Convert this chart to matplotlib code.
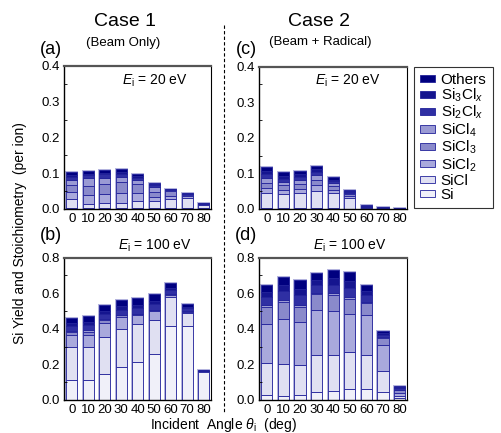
import matplotlib
matplotlib.use('Agg')
import matplotlib.pyplot as plt
import numpy as np
from matplotlib.patches import Patch

plt.rcParams['font.family'] = ['Liberation Sans', 'DejaVu Sans']
plt.rcParams['mathtext.fontset'] = 'custom'
plt.rcParams['mathtext.rm'] = 'Liberation Sans'
plt.rcParams['mathtext.it'] = 'Liberation Sans:italic'
plt.rcParams['mathtext.bf'] = 'Liberation Sans:bold'

angles = ['0', '10', '20', '30', '40', '50', '60', '70', '80']
species = ['Si', 'SiCl', 'SiCl$_2$', 'SiCl$_3$', 'SiCl$_4$',
           'Si$_2$Cl$_x$', 'Si$_3$Cl$_x$', 'Others']
colors = ['#f0f0f9', '#e0e0f2', '#a9a9dc', '#8a8acb', '#9a9ad4',
          '#2f2fa3', '#15158f', '#00007f']

# Case 1, Ei = 20 eV
c1_20_si     = [0.003, 0.003, 0.003, 0.003, 0.003, 0.003, 0.003, 0.003, 0.002]
c1_20_sicl   = [0.024, 0.010, 0.013, 0.013, 0.020, 0.019, 0.024, 0.029, 0.010]
c1_20_sicl2  = [0.020, 0.025, 0.025, 0.030, 0.022, 0.012, 0.010, 0.004, 0.001]
c1_20_sicl3  = [0.020, 0.027, 0.028, 0.030, 0.024, 0.014, 0.014, 0.004, 0.001]
c1_20_sicl4  = [0.014, 0.021, 0.019, 0.014, 0.012, 0.014, 0.003, 0.002, 0.001]
c1_20_si2    = [0.009, 0.008, 0.009, 0.009, 0.007, 0.005, 0.001, 0.001, 0.001]
c1_20_si3    = [0.005, 0.005, 0.005, 0.005, 0.004, 0.003, 0.001, 0.001, 0.0005]
c1_20_others = [0.008, 0.007, 0.008, 0.008, 0.006, 0.003, 0.001, 0.001, 0.0005]

# Case 1, Ei = 100 eV
c1_100_si     = [0.112, 0.112, 0.144, 0.187, 0.215, 0.256, 0.417, 0.415, 0.157]
c1_100_sicl   = [0.184, 0.184, 0.211, 0.209, 0.211, 0.193, 0.163, 0.075, 0.005]
c1_100_sicl2  = [0.070, 0.070, 0.075, 0.070, 0.050, 0.050, 0.008, 0.006, 0.001]
c1_100_sicl3  = [0.015, 0.015, 0.018, 0.010, 0.008, 0.008, 0.003, 0.002, 0.0005]
c1_100_sicl4  = [0.008, 0.010, 0.008, 0.001, 0.001, 0.001, 0.002, 0.002, 0.0005]
c1_100_si2    = [0.025, 0.028, 0.028, 0.030, 0.030, 0.030, 0.023, 0.014, 0.0015]
c1_100_si3    = [0.016, 0.018, 0.018, 0.020, 0.020, 0.020, 0.015, 0.009, 0.001]
c1_100_others = [0.028, 0.032, 0.031, 0.034, 0.035, 0.036, 0.027, 0.015, 0.0015]

# Case 2, Ei = 20 eV
c2_20_si     = [0.002, 0.002, 0.002, 0.003, 0.002, 0.001, 0.0005, 0.0003, 0.0002]
c2_20_sicl   = [0.042, 0.040, 0.042, 0.047, 0.042, 0.031, 0.002, 0.001, 0.0005]
c2_20_sicl2  = [0.015, 0.012, 0.013, 0.016, 0.010, 0.005, 0.001, 0.0007, 0.0003]
c2_20_sicl3  = [0.015, 0.012, 0.013, 0.016, 0.010, 0.005, 0.001, 0.0007, 0.0004]
c2_20_sicl4  = [0.012, 0.009, 0.010, 0.013, 0.008, 0.003, 0.001, 0.0006, 0.0003]
c2_20_si2    = [0.012, 0.010, 0.010, 0.010, 0.006, 0.003, 0.0015, 0.0008, 0.0004]
c2_20_si3    = [0.008, 0.007, 0.007, 0.007, 0.004, 0.002, 0.001, 0.0006, 0.0003]
c2_20_others = [0.012, 0.011, 0.010, 0.010, 0.007, 0.003, 0.002, 0.001, 0.0006]

# Case 2, Ei = 100 eV
c2_100_si     = [0.028, 0.025, 0.028, 0.047, 0.053, 0.062, 0.062, 0.043, 0.010]
c2_100_sicl   = [0.180, 0.178, 0.171, 0.208, 0.197, 0.206, 0.188, 0.122, 0.015]
c2_100_sicl2  = [0.220, 0.249, 0.238, 0.252, 0.247, 0.216, 0.229, 0.145, 0.015]
c2_100_sicl3  = [0.094, 0.098, 0.085, 0.086, 0.091, 0.085, 0.065, 0.039, 0.015]
c2_100_sicl4  = [0.010, 0.010, 0.010, 0.010, 0.010, 0.010, 0.008, 0.005, 0.003]
c2_100_si2    = [0.045, 0.050, 0.055, 0.042, 0.050, 0.052, 0.037, 0.013, 0.008]
c2_100_si3    = [0.030, 0.033, 0.037, 0.028, 0.035, 0.036, 0.025, 0.008, 0.006]
c2_100_others = [0.041, 0.046, 0.052, 0.040, 0.049, 0.050, 0.034, 0.012, 0.008]

panels = {
    'a': [c1_20_si, c1_20_sicl, c1_20_sicl2, c1_20_sicl3, c1_20_sicl4, c1_20_si2, c1_20_si3, c1_20_others],
    'b': [c1_100_si, c1_100_sicl, c1_100_sicl2, c1_100_sicl3, c1_100_sicl4, c1_100_si2, c1_100_si3, c1_100_others],
    'c': [c2_20_si, c2_20_sicl, c2_20_sicl2, c2_20_sicl3, c2_20_sicl4, c2_20_si2, c2_20_si3, c2_20_others],
    'd': [c2_100_si, c2_100_sicl, c2_100_sicl2, c2_100_sicl3, c2_100_sicl4, c2_100_si2, c2_100_si3, c2_100_others],
}

W, H = 501, 433
fig = plt.figure(figsize=(W / 100, H / 100), dpi=100)


def px_axes(l, t, r, b):
    return fig.add_axes([l / W, 1 - b / H, (r - l) / W, (b - t) / H])


boxes = {'a': (64, 66, 211, 209), 'b': (64, 257.5, 211, 400),
         'c': (259, 66.5, 407, 209), 'd': (259, 257.5, 407, 400)}
ymax = {'a': 0.4, 'b': 0.8, 'c': 0.4, 'd': 0.8}
ystep = {'a': 0.1, 'b': 0.2, 'c': 0.1, 'd': 0.2}

x = np.arange(len(angles))
for key, layers in panels.items():
    ax = px_axes(*boxes[key])
    bottom = np.zeros(len(angles))
    for vals, col in zip(layers, colors):
        vals = np.array(vals)
        ax.bar(x, vals, width=0.68, bottom=bottom, color=col,
               edgecolor='#22229a', linewidth=0.6)
        bottom += vals
    # soft outline round each bar
    ax.bar(x, bottom, width=0.68, fill=False, edgecolor='#8080c8',
           linewidth=1.4, alpha=0.6, zorder=0)
    ax.set_xlim(-0.47, 8.45)
    ax.set_ylim(0, ymax[key])
    ax.set_yticks(np.arange(0, ymax[key] + 1e-9, ystep[key]))
    ax.set_yticks(np.arange(ystep[key] / 2, ymax[key], ystep[key]), minor=True)
    ax.yaxis.set_major_formatter(matplotlib.ticker.FormatStrFormatter('%.1f'))
    ax.set_xticks(x)
    ax.set_xticklabels(angles)
    ax.tick_params(axis='x', length=0, pad=3, labelsize=9.5)
    ax.tick_params(axis='y', which='both', direction='in', length=2,
                   width=0.6, pad=3, labelsize=9.5)
    ax.tick_params(axis='y', which='major', length=0)
    for s in ['left', 'bottom']:
        ax.spines[s].set_linewidth(1.0)
    ax.spines['top'].set_color('#555555')
    ax.spines['top'].set_linewidth(1.6)
    ax.spines['right'].set_linewidth(0.8)
    ax.set_axisbelow(False)

# Text
fig.text(125 / W, 1 - 22 / H, 'Case 1', ha='center', va='center', fontsize=14)
fig.text(123 / W, 1 - 43 / H, '(Beam Only)', ha='center', va='center', fontsize=9.5)
fig.text(319 / W, 1 - 22 / H, 'Case 2', ha='center', va='center', fontsize=14)
fig.text(320 / W, 1 - 42 / H, '(Beam + Radical)', ha='center', va='center', fontsize=9.5)
for lab, (xx, yy) in {'(a)': (51, 49), '(b)': (51, 236),
                      '(c)': (246, 49), '(d)': (246, 236)}.items():
    fig.text(xx / W, 1 - yy / H, lab, ha='center', va='center', fontsize=13)

fig.text(155 / W, 1 - 81 / H, r'$E_\mathrm{i}$ = 20 eV', ha='center', va='center', fontsize=10)
fig.text(348 / W, 1 - 81 / H, r'$E_\mathrm{i}$ = 20 eV', ha='center', va='center', fontsize=10)
fig.text(155 / W, 1 - 246 / H, r'$E_\mathrm{i}$ = 100 eV', ha='center', va='center', fontsize=10)
fig.text(350 / W, 1 - 246 / H, r'$E_\mathrm{i}$ = 100 eV', ha='center', va='center', fontsize=10)

fig.text(20 / W, 1 - 233 / H, 'Si Yield and Stoichiometry  (per ion)',
         rotation=90, ha='center', va='center', fontsize=10)
fig.text(223 / W, 1 - 424.5 / H, r'Incident  Angle $\theta_\mathrm{i}$  (deg)',
         ha='center', va='center', fontsize=10)

# dashed divider
fig.add_artist(plt.Line2D([224 / W, 224 / W], [1 - 25 / H, 1 - 412 / H],
                          color='black', linestyle=(0, (3, 2)), linewidth=0.8))

# legend
handles = [Patch(facecolor=c, edgecolor='#22229a', linewidth=0.6)
           for c in colors][::-1]
leg = fig.legend(handles, species[::-1], loc='upper left',
                 bbox_to_anchor=(414 / W, 1 - 66.5 / H), fontsize=11,
                 frameon=True, fancybox=False, edgecolor='black',
                 handlelength=1.0, handleheight=0.35, handletextpad=0.35,
                 labelspacing=0.0, borderpad=0.4, borderaxespad=0)
leg.get_frame().set_linewidth(0.8)

fig.savefig('out.png', dpi=100)
